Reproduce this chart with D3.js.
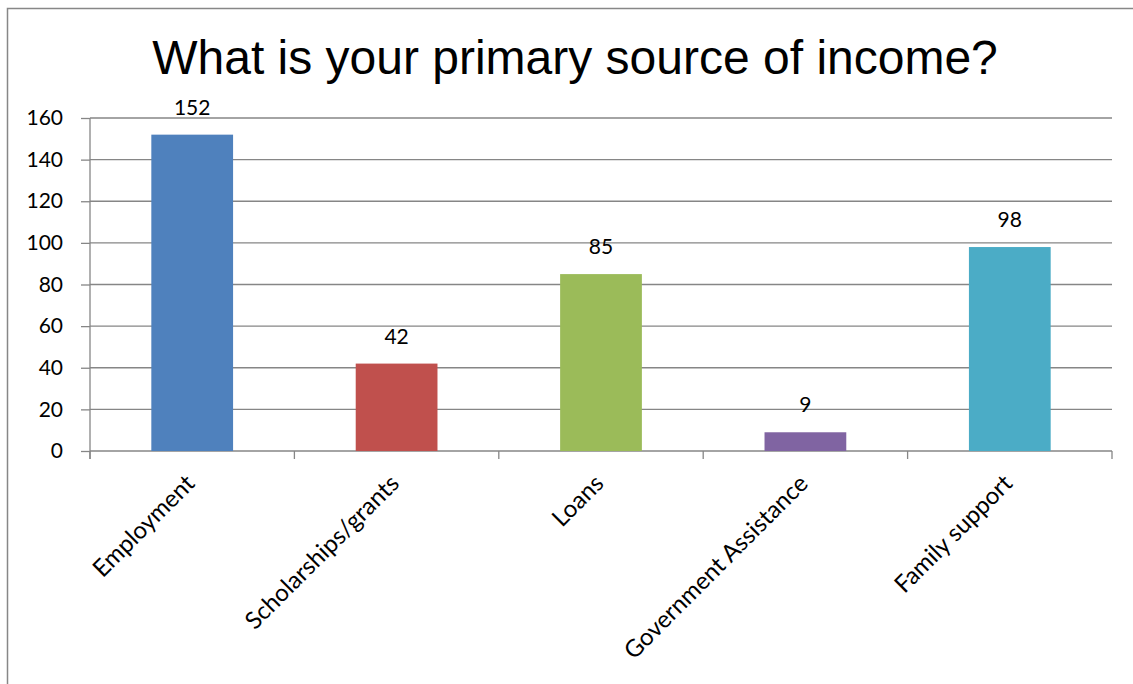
<!DOCTYPE html>
<html>
<head>
<meta charset="utf-8">
<script src="https://cdn.jsdelivr.net/npm/d3@7"></script>
<style>
  html, body { margin: 0; padding: 0; background: #fff; }
  svg { display: block; }
</style>
</head>
<body>
<svg id="chart" width="1133" height="684"></svg>
<script>
// Survey responses: primary source of income
const categories = ["Employment", "Scholarships/grants", "Loans", "Government Assistance", "Family support"];
const counts = [152, 42, 85, 9, 98];
const barColors = ["#4F81BD", "#C0504D", "#9BBB59", "#8064A2", "#4BACC6"];
const yTicks = [0, 20, 40, 60, 80, 100, 120, 140, 160];
const title = "What is your primary source of income?";

const svg = d3.select("#chart");
const W = 1133, H = 684;
const plot = { left: 90, right: 1112, top: 118, bottom: 451 };
const labelFont = "Lato, 'Open Sans', sans-serif";

// outer chart frame
svg.append("rect")
  .attr("x", 7.5).attr("y", 8.5)
  .attr("width", W + 20).attr("height", H + 20)
  .attr("fill", "#fff")
  .attr("stroke", "#878787").attr("stroke-width", 1.5);

// title
svg.append("text")
  .attr("x", 575).attr("y", 74)
  .attr("text-anchor", "middle")
  .attr("font-family", "'Liberation Sans', Arial, sans-serif")
  .attr("font-size", 48)
  .attr("fill", "#000")
  .text(title);

const x = d3.scaleBand().domain(categories).range([plot.left, plot.right]).padding(0);
const y = d3.scaleLinear().domain([0, 160]).range([plot.bottom, plot.top]);

// horizontal gridlines
svg.append("g")
  .selectAll("line")
  .data(yTicks)
  .join("line")
  .attr("x1", plot.left).attr("x2", plot.right)
  .attr("y1", d => y(d)).attr("y2", d => y(d))
  .attr("stroke", "#868686").attr("stroke-width", 1.3);

// y axis
const yAxis = svg.append("g")
  .attr("transform", `translate(${plot.left},0)`)
  .call(d3.axisLeft(y).tickValues(yTicks).tickSize(9).tickPadding(18));
yAxis.select(".domain").remove();
yAxis.selectAll(".tick line").attr("stroke", "#868686").attr("stroke-width", 1.3);
yAxis.selectAll(".tick text")
  .attr("font-family", labelFont).attr("font-size", 21).attr("fill", "#000");
svg.append("line")
  .attr("x1", plot.left).attr("x2", plot.left)
  .attr("y1", plot.top).attr("y2", plot.bottom + 8)
  .attr("stroke", "#868686").attr("stroke-width", 1.3);

// category boundary ticks on the x axis
const boundaries = categories.map(c => x(c)).concat([plot.right]);
svg.append("g")
  .selectAll("line")
  .data(boundaries)
  .join("line")
  .attr("x1", d => d).attr("x2", d => d)
  .attr("y1", plot.bottom).attr("y2", plot.bottom + 8)
  .attr("stroke", "#868686").attr("stroke-width", 1.3);

// bars
const barW = x.bandwidth() * 0.4;
const data = categories.map((c, i) => ({ c, v: counts[i], color: barColors[i] }));
svg.append("g")
  .selectAll("rect")
  .data(data)
  .join("rect")
  .attr("x", d => x(d.c) + (x.bandwidth() - barW) / 2)
  .attr("y", d => y(d.v))
  .attr("width", barW)
  .attr("height", d => y(0) - y(d.v))
  .attr("fill", d => d.color);

// value labels
svg.append("g")
  .selectAll("text")
  .data(data)
  .join("text")
  .attr("x", d => x(d.c) + x.bandwidth() / 2)
  .attr("y", d => y(d.v) - 20)
  .attr("text-anchor", "middle")
  .attr("font-family", labelFont).attr("font-size", 21).attr("fill", "#000")
  .text(d => d.v);

// rotated category labels
svg.append("g")
  .selectAll("text")
  .data(categories)
  .join("text")
  .attr("transform", d => `translate(${x(d) + x.bandwidth() / 2 + 4},${plot.bottom + 34}) rotate(-45)`)
  .attr("text-anchor", "end")
  .attr("font-family", labelFont).attr("font-size", 24).attr("fill", "#000")
  .text(d => d);
</script>
</body>
</html>
